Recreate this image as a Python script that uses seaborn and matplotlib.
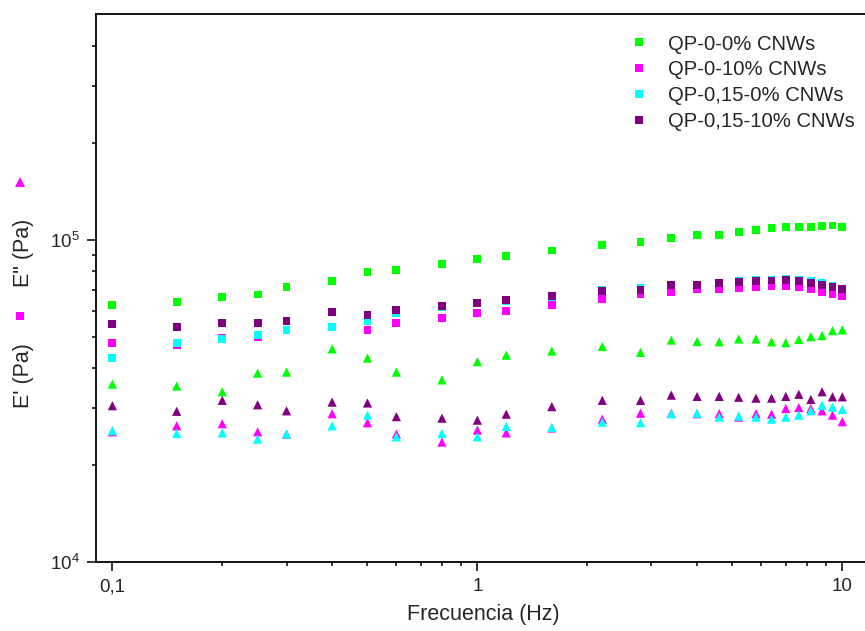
import matplotlib
matplotlib.use("Agg")
import matplotlib.pyplot as plt
from matplotlib.lines import Line2D
from matplotlib.ticker import FixedLocator, FixedFormatter, NullFormatter
import pandas as pd
import seaborn as sns

# Frequency sweep (Hz)
freq = [0.1, 0.15, 0.2, 0.25, 0.3, 0.4, 0.5, 0.6, 0.8, 1.0, 1.2, 1.6, 2.2, 2.8,
        3.4, 4.0, 4.6, 5.2, 5.8, 6.4, 7.0, 7.6, 8.2, 8.8, 9.4, 10.0]

samples = ["QP-0-0% CNWs", "QP-0-10% CNWs", "QP-0,15-0% CNWs", "QP-0,15-10% CNWs"]
colors = ["#00FF00", "#FF00FF", "#00FFFF", "#800080"]

# Storage modulus E' (Pa)
e1_qp0_0 = [62700, 64200, 66700, 67700, 71600, 74600, 79400, 80700, 84400, 87300,
            89200, 92700, 96500, 98600, 101300, 103600, 103800, 105900, 107400,
            108700, 109700, 109700, 109700, 110300, 110800, 109700]
e1_qp0_10 = [48000, 47300, 49700, 50100, 52400, 53600, 52500, 55200, 57300, 59400,
             60300, 62700, 65500, 67700, 68800, 70300, 70600, 71100, 71500, 71800,
             72000, 71500, 70600, 69100, 67900, 67000]
e1_qp015_0 = [43000, 47800, 49200, 50600, 52600, 53800, 56200, 59500, 61800, 63500,
              64800, 66600, 69800, 70800, 72700, 72700, 73700, 74500, 75000, 75100,
              75500, 75300, 74500, 73700, 72000, 70600]
e1_qp015_10 = [54900, 53700, 55200, 55400, 55900, 59800, 58400, 60500, 62400, 63800,
               65000, 66900, 69500, 70000, 72400, 72400, 73400, 74100, 74600, 74800,
               75000, 74600, 73600, 72500, 71600, 70300]

# Loss modulus E'' (Pa)
e2_qp0_0 = [35700, 35200, 33800, 38600, 38900, 45900, 43000, 38900, 36800, 41900,
            43900, 45200, 46700, 44800, 48900, 48400, 48300, 49300, 49300, 48300,
            48000, 49100, 50100, 50500, 52300, 52600]
e2_qp0_10 = [25400, 26500, 26900, 25400, 25000, 28900, 27100, 25000, 23600, 25700,
             25200, 26100, 27800, 29000, 29000, 28900, 28900, 28200, 28900, 28800,
             30000, 30200, 30000, 29500, 28600, 27300]
e2_qp015_0 = [25600, 25100, 25200, 24100, 25000, 26500, 28600, 24500, 25100, 24500,
              26400, 26200, 27200, 27100, 28900, 29000, 28200, 28400, 28200, 27800,
              28200, 28600, 29500, 30700, 30300, 29800]
e2_qp015_10 = [30600, 29400, 31800, 30800, 29500, 31400, 31200, 28300, 28000, 27600,
               28800, 30400, 31800, 31800, 33000, 32700, 32700, 32500, 32300, 32300,
               32700, 33200, 32000, 33800, 32600, 32600]

xtick_values = [0.1, 1, 10]
xtick_labels = ["0,1", "1", "10"]
ytick_values = [1e4, 1e5]
ytick_labels = [r"$\mathregular{10^{4}}$", r"$\mathregular{10^{5}}$"]

storage = [e1_qp0_0, e1_qp0_10, e1_qp015_0, e1_qp015_10]
loss = [e2_qp0_0, e2_qp0_10, e2_qp015_0, e2_qp015_10]

rows = []
for name, e1, e2 in zip(samples, storage, loss):
    for f, v in zip(freq, e1):
        rows.append({"freq": f, "value": v, "sample": name, "modulus": "E'"})
    for f, v in zip(freq, e2):
        rows.append({"freq": f, "value": v, "sample": name, "modulus": 'E"'})
df = pd.DataFrame(rows)

sns.set_style("ticks")
plt.rcParams["font.family"] = ["Liberation Sans", "DejaVu Sans"]
plt.rcParams["mathtext.fontset"] = "custom"
plt.rcParams["mathtext.rm"] = "Liberation Sans"

W, H = 865, 631
fig = plt.figure(figsize=(W / 100, H / 100), dpi=100)
ax = fig.add_axes([95.7 / W, (H - 562.3) / H, 775.5 / W, 548.3 / H])

palette = dict(zip(samples, colors))
sns.scatterplot(data=df, x="freq", y="value", hue="sample", hue_order=samples,
                palette=palette, style="modulus",
                markers={"E'": "s", 'E"': "^"},
                size="modulus", sizes={"E'": 32, 'E"': 44},
                linewidth=0, legend=False, ax=ax, zorder=3)

ax.set_xscale("log")
ax.set_yscale("log")
ax.set_xlim(0.09, 12)
ax.set_ylim(1e4, 5.02e5)

ax.xaxis.set_major_locator(FixedLocator(xtick_values))
ax.xaxis.set_major_formatter(FixedFormatter(xtick_labels))
ax.xaxis.set_minor_locator(FixedLocator(
    [k * 0.1 for k in range(2, 10)] + list(range(2, 10))))
ax.xaxis.set_minor_formatter(NullFormatter())
ax.yaxis.set_major_locator(FixedLocator(ytick_values))
ax.yaxis.set_major_formatter(FixedFormatter(ytick_labels))
ax.yaxis.set_minor_locator(FixedLocator(
    [k * 1e4 for k in range(2, 10)] + [k * 1e5 for k in range(2, 5)]))
ax.yaxis.set_minor_formatter(NullFormatter())

ax.tick_params(which="both", direction="out", color="black", width=1.1,
               top=False, right=False)
ax.tick_params(which="major", length=6.5, labelsize=13.5, pad=5)
ax.tick_params(which="minor", length=3.2)
for s in ax.spines.values():
    s.set_color("black")
    s.set_linewidth(1.3)

ax.set_xlabel("Frecuencia (Hz)", fontsize=15.5, labelpad=6)
ax.set_ylabel("")

# Legend with the storage-modulus (square) markers
handles = [Line2D([], [], marker="s", linestyle="none", color=c,
                  markeredgewidth=0, markersize=5.2) for c in colors]
ax.legend(handles, samples, loc="upper left",
          bbox_to_anchor=(628.5 / W, 1 - 34.5 / H), bbox_transform=fig.transFigure,
          frameon=False, fontsize=14.6, handlelength=1.0, handletextpad=0.95,
          labelspacing=0.34, borderpad=0, borderaxespad=0)

# Composite y-axis label: marker + text for each modulus
fig.text(23 / W, 1 - 376 / H, "E' (Pa)", rotation=90, ha="center", va="center",
         fontsize=15.5)
fig.text(23 / W, 1 - 253 / H, 'E" (Pa)', rotation=90, ha="center", va="center",
         fontsize=15.5)
fig.add_artist(Line2D([20 / W], [1 - 315.7 / H], marker="s", color="#FF00FF",
                      markeredgewidth=0, markersize=5.2, transform=fig.transFigure))
fig.add_artist(Line2D([20 / W], [1 - 182.3 / H], marker="^", color="#FF00FF",
                      markeredgewidth=0, markersize=6.5, transform=fig.transFigure))

fig.savefig("out.png", dpi=100)
